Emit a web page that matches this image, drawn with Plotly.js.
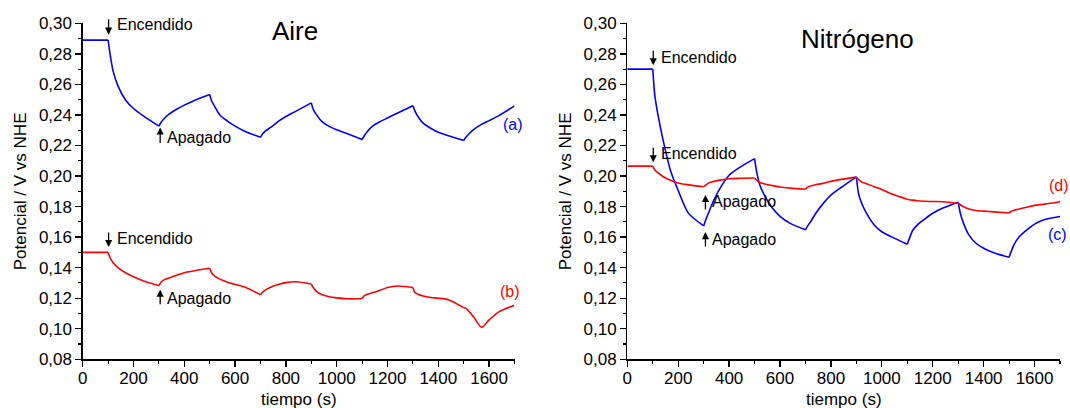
<!DOCTYPE html>
<html>
<head>
<meta charset="utf-8">
<script src="https://cdn.plot.ly/plotly-3.0.1.min.js"></script>
<style>html,body{margin:0;padding:0;background:#fff;}#chart{width:1070px;height:408px;}</style>
</head>
<body>
<div id="chart"></div>
<script>
// time (s)
const tiempo = [0,100,108,120,140,170,200,240,300,308,320,340,370,400,440,500,508,520,540,570,600,640,700,708,720,740,770,800,840,900,908,920,940,970,1000,1040,1100,1108,1120,1140,1170,1200,1240,1300,1308,1320,1340,1370,1400,1440,1500,1508,1520,1540,1570,1600,1640,1700];

// light switch times (s): on/off every 200 s starting at 100 s
const switchTimes = [100,300,500,700,900,1100,1300,1500];

// Aire (a) blue
const aireA = [0.289,0.289,0.2795,0.2685,0.2585,0.2495,0.2442,0.2392,
  0.2327,0.235,0.2375,0.2405,0.2437,0.2464,0.2495,
  0.2534,0.249,0.2455,0.240,0.236,0.2327,0.2292,
  0.2254,0.2275,0.2295,0.2318,0.2358,0.239,0.2425,
  0.2479,0.2435,0.2402,0.236,0.2325,0.2303,0.2278,
  0.2239,0.2262,0.229,0.2325,0.2355,0.238,0.2413,
  0.246,0.2425,0.239,0.2346,0.2313,0.2286,0.2264,
  0.2233,0.2252,0.2275,0.2305,0.2338,0.2363,0.2397,
  0.2459];

// Aire (b) red
const aireB = [0.150,0.150,0.1465,0.1432,0.1398,0.1365,0.134,0.1313,
  0.1282,0.1305,0.132,0.1333,0.135,0.1367,0.138,
  0.1396,0.1365,0.1345,0.1325,0.1305,0.129,0.1272,
  0.1223,0.1238,0.1255,0.1272,0.129,0.1302,0.1308,
  0.1293,0.127,0.1245,0.1225,0.121,0.1202,0.1196,
  0.1198,0.1215,0.1226,0.1235,0.1252,0.127,0.128,
  0.127,0.1237,0.1226,0.1215,0.1205,0.120,0.119,
  0.1138,0.1135,0.1115,0.1075,0.101,0.1058,0.1112,
  0.1154];

// Nitrogeno (c) blue
const nitC = [0.270,0.270,0.253,0.2405,0.224,0.2035,0.1905,0.1757,
  0.1673,0.1712,0.1762,0.1843,0.1935,0.2005,0.2055,
  0.2114,0.203,0.1945,0.187,0.179,0.1736,0.169,
  0.1648,0.1672,0.170,0.1755,0.1821,0.1875,0.1925,
  0.1995,0.189,0.1825,0.1755,0.168,0.1635,0.160,
  0.1553,0.159,0.164,0.168,0.172,0.1756,0.179,
  0.1828,0.176,0.1695,0.162,0.156,0.1527,0.1497,
  0.1468,0.1505,0.1553,0.1603,0.1648,0.1685,0.1715,
  0.1735];

// Nitrogeno (d) red
const nitD = [0.2065,0.2065,0.204,0.2022,0.1997,0.1972,0.1955,0.1942,
  0.193,0.194,0.1955,0.1965,0.1975,0.1982,0.1985,
  0.1987,0.1975,0.1958,0.1948,0.1937,0.1928,0.1921,
  0.1913,0.1927,0.1935,0.1943,0.1952,0.1965,0.1978,
  0.1993,0.1978,0.1962,0.195,0.193,0.1912,0.1882,
  0.1848,0.1845,0.1842,0.1838,0.1835,0.1833,0.1832,
  0.1822,0.1812,0.180,0.1785,0.1774,0.177,0.1765,
  0.1758,0.1768,0.1776,0.1784,0.1796,0.1808,0.1816,
  0.1832];

const xTickStep = 200;
const yTickStep = 0.02;

const BLUE = '#0000ff';
const RED = '#ff0000';
const FONT = 'Arial, "Liberation Sans", sans-serif';

// Split a series at the switch times so each on/off stretch is drawn as a smooth
// curve while the switching cusps stay sharp.
function segments(xs, ys, xa, ya, color) {
  const out = [];
  let cx = [xs[0]], cy = [ys[0]];
  for (let i = 1; i < xs.length; i++) {
    cx.push(xs[i]); cy.push(ys[i]);
    if (switchTimes.indexOf(xs[i]) >= 0 || i === xs.length - 1) {
      out.push({x: cx, y: cy, xaxis: xa, yaxis: ya, mode: 'lines', hoverinfo: 'skip',
        line: {color: color, width: 1.6, shape: 'spline', smoothing: 0.7}});
      cx = [xs[i]]; cy = [ys[i]];
    }
  }
  return out;
}

const traces = [].concat(
  segments(tiempo, aireA, 'x', 'y', BLUE),
  segments(tiempo, aireB, 'x', 'y', RED),
  segments(tiempo, nitC, 'x2', 'y2', BLUE),
  segments(tiempo, nitD, 'x2', 'y2', RED)
);

function xax(domain, anchor) {
  return {domain: domain, anchor: anchor, range: [0, 1700], tick0: 0, dtick: xTickStep,
    showline: true, linecolor: '#000', linewidth: 1.3, ticks: 'outside', ticklen: 6, tickwidth: 1.3, tickcolor: '#000',
    showgrid: false, zeroline: false, tickfont: {size: 17, color: '#000'}, ticklabelstandoff: -3,
    minor: {ticks: 'outside', dtick: 100, tick0: 0, ticklen: 3.5, tickwidth: 1.1, tickcolor: '#000', showgrid: false},
    fixedrange: true};
}
function yax(domain, anchor) {
  return {domain: domain, anchor: anchor, range: [0.08, 0.30], tick0: 0.08, dtick: yTickStep, tickformat: '.2f',
    showline: true, linecolor: '#000', linewidth: 1.3, ticks: 'outside', ticklen: 6, tickwidth: 1.3, tickcolor: '#000',
    showgrid: false, zeroline: false, tickfont: {size: 17, color: '#000'},
    minor: {ticks: 'outside', dtick: 0.01, tick0: 0.08, ticklen: 3.5, tickwidth: 1.1, tickcolor: '#000', showgrid: false},
    fixedrange: true};
}

const W = 1070, H = 408;
const yDom = [1 - 359.3 / H, 1 - 23.3 / H];

function arrow(xr, yr, x, y, ay) {
  return {xref: xr, yref: yr, x: x, y: y, ax: 0, ay: ay, text: '', showarrow: true,
    arrowhead: 2, arrowsize: 1.1, arrowwidth: 1.3, arrowcolor: '#000', standoff: 0, startstandoff: 0};
}
function label(xr, yr, x, y, text, color, anchor) {
  return {xref: xr, yref: yr, x: x, y: y, text: text, showarrow: false, xanchor: anchor || 'left', yanchor: 'middle',
    font: {size: 16, color: color || '#000'}};
}
function ptext(px, py, text, size, angle) {
  return {xref: 'paper', yref: 'paper', x: px / W, y: 1 - py / H, text: text, showarrow: false,
    xanchor: 'center', yanchor: 'middle', textangle: angle || 0, font: {size: size, color: '#000'}};
}

const annotations = [
  // panel titles
  ptext(295, 31.5, 'Aire', 26),
  ptext(857.5, 38.5, 'Nitrógeno', 26),
  // axis titles
  ptext(298.5, 399.5, 'tiempo (s)', 17),
  ptext(843.7, 399.5, 'tiempo (s)', 17),
  ptext(20, 191.3, 'Potencial / V vs NHE', 17, -90),
  ptext(565, 191.3, 'Potencial / V vs NHE', 17, -90),
  // left panel markers
  arrow('x', 'y', 102, 0.2925, -17),
  label('x', 'y', 126, 0.2993, 'Encendido'),
  arrow('x', 'y', 305, 0.2318, 17),
  label('x', 'y', 323, 0.2255, 'Apagado'),
  arrow('x', 'y', 102, 0.1535, -16),
  label('x', 'y', 126, 0.1588, 'Encendido'),
  arrow('x', 'y', 305, 0.1256, 16),
  label('x', 'y', 323, 0.1195, 'Apagado'),
  label('x', 'y', 1693, 0.234, '(a)', BLUE, 'center'),
  label('x', 'y', 1682, 0.1247, '(b)', RED, 'center'),
  // right panel markers
  arrow('x2', 'y2', 102, 0.2725, -16),
  label('x2', 'y2', 124, 0.2774, 'Encendido'),
  arrow('x2', 'y2', 102, 0.209, -16),
  label('x2', 'y2', 124, 0.2149, 'Encendido'),
  arrow('x2', 'y2', 307, 0.1876, 16),
  label('x2', 'y2', 325, 0.1834, 'Apagado'),
  arrow('x2', 'y2', 307, 0.1633, 16),
  label('x2', 'y2', 325, 0.1586, 'Apagado'),
  label('x2', 'y2', 1697, 0.1935, '(d)', RED, 'center'),
  label('x2', 'y2', 1691, 0.162, '(c)', BLUE, 'center')
];

const layout = {
  width: W, height: H,
  margin: {l: 0, r: 0, t: 0, b: 0, pad: 0},
  paper_bgcolor: '#fff', plot_bgcolor: '#fff',
  showlegend: false,
  separators: ',.',
  font: {family: FONT, size: 17, color: '#000'},
  xaxis: xax([82.7 / W, 514.5 / W], 'y'),
  yaxis: yax(yDom, 'x'),
  xaxis2: xax([627.3 / W, 1060 / W], 'y2'),
  yaxis2: yax(yDom, 'x2'),
  annotations: annotations
};

Plotly.newPlot('chart', traces, layout, {displayModeBar: false, staticPlot: true});
</script>
</body>
</html>
